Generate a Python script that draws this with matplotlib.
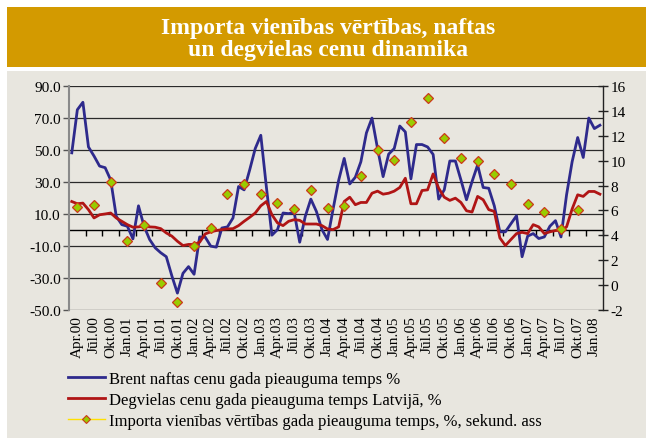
import matplotlib
matplotlib.use("Agg")
import matplotlib.pyplot as plt
from matplotlib.patches import Rectangle
from matplotlib.lines import Line2D
import numpy as np

plt.rcParams['font.family'] = ['Liberation Serif', 'DejaVu Serif']
plt.rcParams['axes.unicode_minus'] = False

# monthly categories, Mar.00 .. Feb.08
month_names = ['Jan', 'Feb', 'Mar', 'Apr', 'Mai', 'Jūn', 'Jūl', 'Aug', 'Sep', 'Okt', 'Nov', 'Dec']
months = []
for k in range(96):
    m = 2 + k
    months.append(f"{month_names[m % 12]}.{m // 12:02d}")

# Brent oil price annual growth, %
brent = [48.3, 75.3, 80.0, 52.0, 46.3, 40.0, 39.0, 31.3, 8.5, 3.3, 2.3, -5.6,
         15.1, 2.3, -6.0, -11.2, -14.3, -16.8, -28.8, -39.6, -27.2, -23.0, -27.8, -4.4,
         -4.5, -10.2, -10.8, 1.2, 1.9, 7.5, 27.2, 25.1, 37.6, 51.0, 59.3, 27.0,
         -3.3, 0.2, 10.6, 10.2, 11.0, -7.7, 8.5, 19.3, 11.6, 0.2, -6.0, 13.0,
         31.0, 44.8, 28.8, 33.0, 42.7, 60.8, 70.1, 51.0, 33.4, 47.5, 51.0, 65.1,
         61.4, 32.0, 53.5, 53.5, 52.0, 47.3, 19.3, 25.1, 43.2, 43.2, 31.3, 18.9,
         30.3, 40.7, 26.6, 26.1, 15.1, -1.2, -1.2, 3.9, 8.9, -16.8, -3.9, -2.3,
         -5.4, -4.4, 2.3, 5.8, -4.4, 22.0, 42.7, 57.9, 45.4, 70.1, 63.5, 65.6]

# fuel price annual growth in Latvia, %
fuel = [17.8, 16.4, 16.8, 12.7, 7.5, 9.5, 10.0, 10.6, 7.5, 5.4, 3.3, 1.7,
        1.9, 2.3, 1.9, 1.7, 0.8, -1.9, -3.9, -7.1, -9.8, -9.1, -9.1, -7.7,
        -2.5, -1.2, -0.4, 0.2, 0.6, 0.8, 2.7, 5.4, 7.9, 10.6, 15.1, 17.8,
        9.5, 4.4, 2.7, 5.4, 6.4, 6.0, 3.7, 3.7, 3.7, 2.7, 0.6, 0.2,
        1.9, 17.8, 20.5, 15.8, 17.2, 17.2, 23.0, 24.3, 22.4, 23.0, 24.3, 26.6,
        32.4, 16.4, 16.4, 24.7, 25.1, 35.1, 26.1, 20.5, 18.5, 19.9, 17.2, 12.0,
        11.2, 21.0, 18.9, 12.7, 11.6, -5.0, -9.8, -6.0, -2.3, -1.5, -2.3, 3.3,
        1.9, -2.3, -1.2, -0.4, -0.2, 1.9, 13.1, 22.0, 21.0, 24.1, 24.1, 22.4]

# import unit value annual growth, % (quarterly, secondary axis)
import_unit = [6.3, 6.4, 8.25, 3.5, 4.8, 0.15, -1.35, 3.1, 4.6, 7.35, 8.1,
               7.35, 6.6, 6.15, 7.65, 6.2, 6.35, 8.75, 10.9, 10.05, 13.1,
               15.05, 11.8, 10.2, 10.0, 8.9, 8.15, 6.55, 5.85, 4.5, 6.05]

x = np.arange(len(months))
label_idx = x[1::3]
import_idx = x[1:1 + 3 * len(import_unit):3]

W, H = 646, 439
fig = plt.figure(figsize=(W / 100, H / 100), dpi=100, facecolor='white')

# orange title band and cream panel
fig.patches.append(Rectangle((7 / W, 1 - 68 / H), 639 / W, 60 / H, transform=fig.transFigure,
                             facecolor='#D39A00', edgecolor='none', zorder=-2))
fig.patches.append(Rectangle((7 / W, 0), 639 / W, (H - 72) / H, transform=fig.transFigure,
                             facecolor='#E8E6DF', edgecolor='none', zorder=-2))
fig.text(328 / W, 1 - 39.5 / H, "Importa vienības vērtības, naftas\nun degvielas cenu dinamika",
         ha='center', va='center', color='white', fontsize=17, fontweight='bold', linespacing=1.05)

ax = fig.add_axes([69 / W, 1 - 310.7 / H, (602.7 - 69) / W, (310.7 - 87.3) / H])
ax.set_facecolor('none')
ax.set_xlim(-0.5, len(months) - 0.5)
ax.set_ylim(-50, 90)
ax.set_yticks(np.arange(-50, 91, 20))
ax.set_yticklabels([f"{v:.1f}" for v in np.arange(-50, 91, 20)])
ax.yaxis.grid(True, color='#2a2a2a', lw=0.9)
ax.set_axisbelow(True)
for s in ['top', 'bottom', 'right']:
    ax.spines[s].set_visible(False)
ax.spines['left'].set_color('#8a8a8a')
ax.spines['left'].set_linewidth(1.5)
ax.tick_params(axis='y', direction='out', length=4, width=1, color='#555555', labelsize=11, pad=2)
ax.set_xticks(label_idx)
ax.set_xticklabels([months[i] for i in label_idx], rotation=90)
ax.tick_params(axis='x', length=0, pad=4, labelsize=11)

# category axis crossing at zero
loc0 = (0 - ax.get_ylim()[0]) / (ax.get_ylim()[1] - ax.get_ylim()[0])
sec = ax.secondary_xaxis(loc0)
sec.set_xticks(np.arange(2.5, len(months), 3))
sec.tick_params(direction='out', length=4, width=1, color='black', labelbottom=False, labeltop=False)
sec.spines['bottom'].set_color('black')
sec.spines['bottom'].set_linewidth(1)

l1, = ax.plot(x, brent, color='#2E2A8C', lw=2.0, zorder=3)
l2, = ax.plot(x, fuel, color='#B01515', lw=2.0, zorder=3)

ax2 = ax.twinx()
ax2.set_ylim(-2, 16)
ax2.set_yticks(np.arange(-2, 17, 2))
for s in ['top', 'bottom', 'left']:
    ax2.spines[s].set_visible(False)
ax2.spines['right'].set_color('#222222')
ax2.spines['right'].set_linewidth(1)
ax2.tick_params(axis='y', direction='inout', length=7, width=1, color='#222222', labelsize=11, pad=2)
ax2.plot(import_idx, import_unit, ls='none', marker='D', ms=5.5,
         mfc='#99CC00', mec='#CC3A1A', mew=0.9, zorder=4)

h3 = Line2D([], [], color='#FFE000', lw=1, marker='D', ms=4.5, mfc='#99CC00', mec='#CC3A1A', mew=0.8)
fig.legend([l1, l2, h3],
           ["Brent naftas cenu gada pieauguma temps %",
            "Degvielas cenu gada pieauguma temps Latvijā, %",
            "Importa vienības vērtības gada pieauguma temps, %, sekund. ass"],
           loc='upper left', bbox_to_anchor=(68 / W, 1 - 372 / H), frameon=False,
           fontsize=12, handlelength=2.2, handletextpad=0.25, labelspacing=0.3,
           borderpad=0, borderaxespad=0)

fig.savefig("out.png", dpi=100)
